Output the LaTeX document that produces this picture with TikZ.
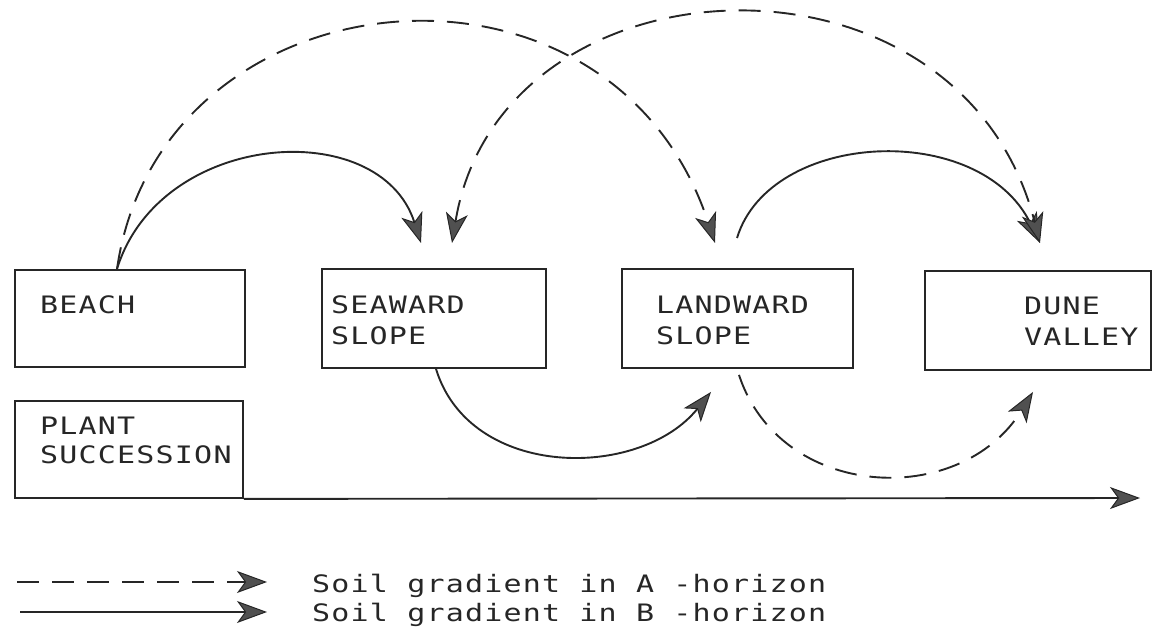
\documentclass[tikz,border=0pt]{standalone}
\usepackage{fontspec}
\setmonofont{DejaVu Sans Mono}[FakeStretch=1.25, LetterSpace=5]
\usetikzlibrary{arrows.meta,calc}
\definecolor{ink}{HTML}{262626}
\definecolor{tipgrey}{HTML}{505050}
\tikzset{
  x=1pt, y=-1pt,
  inkline/.style={draw=ink, line width=1.9pt},
  box/.style={inkline, rectangle, anchor=north west, inner sep=0pt},
  lbl/.style={font=\ttfamily\fontsize{24}{24}\selectfont, text=ink, anchor=base west, inner sep=0pt},
  headtip/.tip={Stealth[length=30pt, width=22pt, inset=8pt, fill=tipgrey, line width=1pt]},
  flow/.style={inkline, -headtip},
  both/.style={inkline, headtip-headtip},
  dashline/.style={dash pattern=on 22pt off 13pt},
}
\begin{document}
\begin{tikzpicture}
\useasboundingbox (0,0) rectangle (1160,629);

% zones along the dune profile
\node[box, minimum width=230, minimum height=97] (beach)    at (14,269)  {};
\node[box, minimum width=228, minimum height=97] (plant)    at (14,400)  {};
\node[box, minimum width=224, minimum height=99] (seaward)  at (321,268) {};
\node[box, minimum width=231, minimum height=99] (landward) at (621,268) {};
\node[box, minimum width=226, minimum height=99] (dune)     at (924,270) {};

\node[lbl] (tbeach)  at (40,313)   {BEACH};
\node[lbl] (tsea1)   at (331,313)  {SEAWARD};
\node[lbl] (tsea2)   at (331,344)  {SLOPE};
\node[lbl] (tland1)  at (656,313)  {LANDWARD};
\node[lbl] (tland2)  at (656,344)  {SLOPE};
\node[lbl] (tdune1)  at (1024,314) {DUNE};
\node[lbl] (tdune2)  at (1024,345) {VALLEY};
\node[lbl] (tplant1) at (40,434)   {PLANT};
\node[lbl] (tplant2) at (40,463)   {SUCCESSION};

% succession time axis
\coordinate (axisend) at (1140,498);
\draw[flow] (plant.south east) -- (axisend);

% B-horizon gradients (solid)
\draw[flow] ($(beach.north west)+(103,0)$)
  .. controls (160,130) and (380,115) .. ($(seaward.north west)+(100,-25)$);
\draw[flow] ($(landward.north west)+(116,-30)$)
  .. controls (770,130) and (980,120) .. ($(dune.north west)+(116,-27)$);
\draw[flow] ($(seaward.south west)+(115,0)$)
  .. controls (470,480) and (640,480) .. ($(landward.south west)+(90,23)$);

% A-horizon gradients (dashed)
\draw[flow, dashline] ($(beach.north west)+(103,0)$)
  .. controls (160,-30) and (610,-75) .. ($(landward.north west)+(94,-25)$);
\draw[both, dashline] ($(seaward.north west)+(131,-25)$)
  .. controls (500,-50) and (960,-70) .. ($(dune.north west)+(116,-27)$);
\draw[flow, dashline] ($(landward.south west)+(118,6)$)
  .. controls (780,500) and (960,510) .. ($(dune.south west)+(109,21)$);

% legend
\coordinate (la0) at (17,582);
\coordinate (la1) at (267,582);
\coordinate (lb0) at (20,612);
\coordinate (lb1) at (267,612);
\draw[flow, dashline] (la0) -- (la1);
\draw[flow] (lb0) -- (lb1);
\node[lbl] (lega) at (312,592) {Soil gradient in A -horizon};
\node[lbl] (legb) at (312,621) {Soil gradient in B -horizon};
\end{tikzpicture}
\end{document}
